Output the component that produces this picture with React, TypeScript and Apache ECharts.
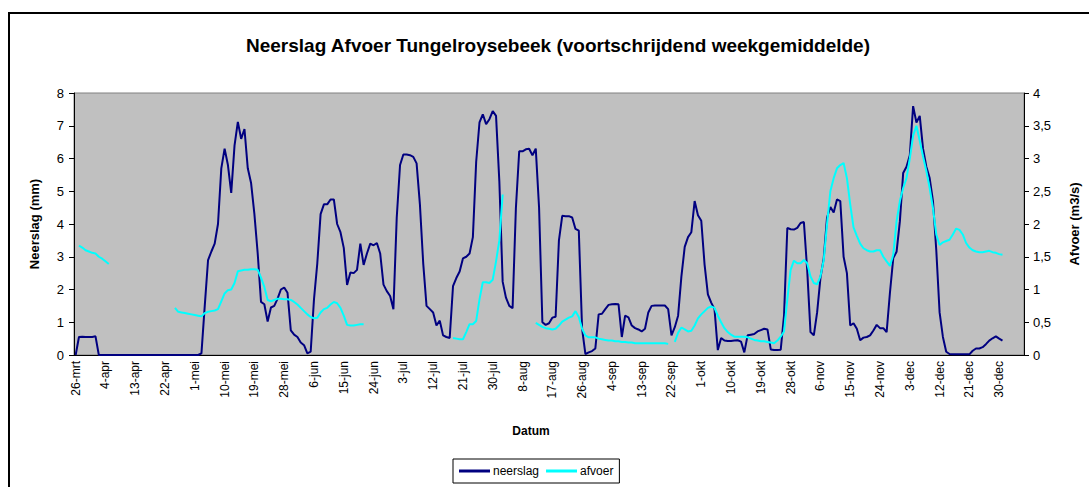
import React, { useEffect, useRef } from "react";
import * as echarts from "echarts";

const MONTHS = ["jan", "feb", "mrt", "apr", "mei", "jun", "jul", "aug", "sep", "okt", "nov", "dec"];
const START_DATE = Date.UTC(2005, 2, 26);
const CATEGORY_COUNT = 287;
const categories: string[] = [];
for (let i = 0; i < CATEGORY_COUNT; i++) {
  const dt = new Date(START_DATE + i * 86400000);
  categories.push(dt.getUTCDate() + "-" + MONTHS[dt.getUTCMonth()]);
}

// neerslag (mm), voortschrijdend weekgemiddelde, daily from 26-mrt
const neerslag: number[] = [
  0, 0.55, 0.56, 0.55, 0.55, 0.55, 0.57, 0, 0, 0,
  0, 0, 0, 0, 0, 0, 0, 0, 0, 0,
  0, 0, 0, 0, 0, 0, 0, 0, 0, 0,
  0, 0, 0, 0, 0, 0, 0, 0, 0.05, 1.5,
  2.9, 3.16, 3.4, 4.0, 5.7, 6.3, 5.8, 4.95, 6.4, 7.12,
  6.6, 6.9, 5.7, 5.25, 4.3, 3.1, 1.62, 1.55, 1.02, 1.45,
  1.5, 1.72, 2.0, 2.06, 1.9, 0.75, 0.62, 0.55, 0.38, 0.3,
  0.05, 0.1, 1.7, 2.8, 4.3, 4.6, 4.6, 4.75, 4.75, 4.0,
  3.75, 3.27, 2.14, 2.52, 2.5, 2.6, 3.4, 2.75, 3.1, 3.4,
  3.35, 3.42, 3.1, 2.15, 1.95, 1.8, 1.4, 4.2, 5.8, 6.12,
  6.12, 6.1, 6.05, 5.85, 4.6, 2.8, 1.5, 1.4, 1.3, 0.9,
  1.05, 0.6, 0.55, 0.52, 2.1, 2.35, 2.55, 2.95, 3.0, 3.1,
  3.6, 5.9, 7.1, 7.35, 7.05, 7.2, 7.45, 7.3, 5.3, 2.24,
  1.75, 1.5, 1.43, 4.49, 6.22, 6.22, 6.28, 6.3, 6.1, 6.3,
  4.5, 1.0, 0.92, 0.97, 1.14, 1.17, 3.5, 4.25, 4.24, 4.24,
  4.2, 3.85, 3.8, 0.8, 0.03, 0.08, 0.12, 0.2, 1.24, 1.26,
  1.4, 1.53, 1.55, 1.56, 1.55, 0.55, 1.2, 1.15, 0.9, 0.82,
  0.78, 0.72, 0.8, 1.3, 1.5, 1.51, 1.51, 1.51, 1.51, 1.4,
  0.6, 0.85, 1.2, 2.4, 3.3, 3.6, 3.75, 4.7, 4.27, 4.1,
  2.76, 1.85, 1.6, 1.4, 0.15, 0.52, 0.44, 0.43, 0.43, 0.44,
  0.45, 0.41, 0.08, 0.6, 0.62, 0.64, 0.72, 0.76, 0.8, 0.78,
  0.17, 0.15, 0.15, 0.16, 1.2, 3.88, 3.84, 3.83, 3.88, 4.03,
  4.06, 2.6, 0.7, 0.6, 1.3, 2.35, 2.96, 4.2, 4.52, 4.35,
  4.75, 4.7, 3.0, 2.5, 0.9, 0.97, 0.8, 0.45, 0.53, 0.55,
  0.6, 0.75, 0.92, 0.82, 0.82, 0.7, 1.9, 2.96, 3.15, 4.08,
  5.56, 5.75, 6.1, 7.6, 7.1, 7.3, 6.3, 5.75, 5.4, 4.7,
  3.2, 1.3, 0.55, 0.1, 0.03, 0.02, 0.02, 0.02, 0.02, 0.02,
  0.02, 0.13, 0.2, 0.2, 0.24, 0.33, 0.44, 0.51, 0.57, 0.5, 0.44,
];

// afvoer (m3/s), daily from 26-mrt; null = no measurement
const N = null;
const afvoer: (number | null)[] = [
  N, 1.67, 1.64, 1.6, 1.58, 1.56, 1.55, 1.5, 1.47, 1.43,
  1.39, N, N, N, N, N, N, N, N, N,
  N, N, N, N, N, N, N, N, N, N,
  0.72, 0.66, 0.65, 0.64, 0.63, 0.62, 0.61, 0.6, 0.59, 0.64,
  0.66, 0.67, 0.68, 0.7, 0.82, 0.94, 0.99, 1.0, 1.1, 1.28,
  1.29, 1.3, 1.3, 1.31, 1.31, 1.3, 1.18, 1.04, 0.84, 0.82,
  0.84, 0.86, 0.86, 0.85, 0.85, 0.84, 0.81, 0.77, 0.72, 0.67,
  0.62, 0.58, 0.56, 0.57, 0.65, 0.7, 0.72, 0.77, 0.81, 0.79,
  0.72, 0.6, 0.46, 0.45, 0.45, 0.46, 0.47, 0.47, N, N,
  N, N, N, N, N, N, N, N, N, N,
  N, N, N, N, N, N, N, N, N, N,
  N, N, N, N, 0.26, 0.25, 0.24, 0.24, 0.35, 0.47,
  0.47, 0.52, 0.85, 1.11, 1.11, 1.1, 1.15, 1.43, 1.75, 2.45,
  N, N, N, N, N, N, N, N, N, 0.49,
  0.46, 0.43, 0.41, 0.4, 0.39, 0.4, 0.45, 0.51, 0.54, 0.57,
  0.59, 0.67, 0.58, 0.4, 0.3, 0.27, 0.27, 0.27, 0.25, 0.24,
  0.23, 0.22, 0.22, 0.21, 0.21, 0.2, 0.2, 0.19, 0.19, 0.18,
  0.18, 0.18, 0.18, 0.18, 0.18, 0.18, 0.18, 0.18, 0.18, 0.17,
  N, 0.2, 0.34, 0.42, 0.39, 0.36, 0.37, 0.45, 0.56, 0.62,
  0.67, 0.72, 0.74, 0.72, 0.6, 0.5, 0.41, 0.35, 0.31, 0.28,
  0.28, 0.28, 0.28, 0.27, 0.25, 0.23, 0.22, 0.21, 0.21, 0.2,
  0.19, 0.18, 0.22, 0.28, 0.36, 0.85, 1.3, 1.44, 1.4, 1.4,
  1.45, 1.4, 1.2, 1.1, 1.08, 1.2, 1.45, 2.0, 2.5, 2.7,
  2.85, 2.9, 2.93, 2.7, 2.3, 1.95, 1.82, 1.7, 1.63, 1.6,
  1.58, 1.58, 1.6, 1.6, 1.5, 1.43, 1.36, 1.53, 2.04, 2.35,
  2.55, 2.7, 3.0, 3.35, 3.5, 3.27, 3.03, 2.81, 2.55, 2.24,
  1.84, 1.68, 1.72, 1.74, 1.76, 1.84, 1.93, 1.91, 1.84, 1.71,
  1.64, 1.6, 1.58, 1.57, 1.57, 1.58, 1.59, 1.57, 1.56, 1.54, 1.53,
];

const FONT = "Arial, 'Liberation Sans', sans-serif";

export default function App() {
  const ref = useRef<HTMLDivElement>(null);
  useEffect(() => {
    if (!ref.current) return;
    const chart = echarts.init(ref.current, undefined, { renderer: "svg" });
    chart.setOption({
      animation: false,
      backgroundColor: "#ffffff",
      textStyle: { fontFamily: FONT },
      title: {
        text: "Neerslag Afvoer Tungelroysebeek (voortschrijdend weekgemiddelde)",
        left: 553,
        textAlign: "center",
        top: 31,
        textStyle: { fontFamily: FONT, fontSize: 19, fontWeight: "bold", color: "#000" },
      },
      graphic: [
        {
          type: "rect",
          shape: { x: 9, y: 13, width: 1200, height: 600 },
          style: { fill: "none", stroke: "#000", lineWidth: 2 },
          silent: true,
        },
      ],
      legend: {
        left: 453,
        top: 459,
        orient: "horizontal",
        icon: "rect",
        itemWidth: 31,
        itemHeight: 3,
        itemGap: 7,
        padding: [6, 6, 6, 6],
        borderColor: "#000",
        borderWidth: 1,
        borderRadius: 0,
        backgroundColor: "#fff",
        textStyle: { fontFamily: FONT, fontSize: 12, color: "#000", padding: [0, 0, 0, -2] },
        data: ["neerslag", "afvoer"],
      },
      grid: {
        left: 74,
        right: 62,
        top: 93,
        bottom: 132,
        show: true,
        backgroundColor: "#c0c0c0",
        borderColor: "#808080",
        borderWidth: 1,
      },
      xAxis: {
        type: "category",
        data: categories,
        boundaryGap: true,
        name: "Datum",
        nameLocation: "middle",
        nameGap: 70,
        nameTextStyle: {
          fontFamily: FONT,
          fontSize: 12,
          fontWeight: "bold",
          color: "#000",
          padding: [0, 36, 0, 0],
        },
        axisLine: { show: true, lineStyle: { color: "#000", width: 1 } },
        axisTick: { show: false },
        axisLabel: {
          interval: 8,
          rotate: 90,
          margin: 6,
          fontFamily: FONT,
          fontSize: 12,
          color: "#000",
        },
        splitLine: { show: false },
      },
      yAxis: [
        {
          type: "value",
          min: 0,
          max: 8,
          interval: 1,
          name: "Neerslag (mm)",
          nameLocation: "middle",
          nameRotate: 90,
          nameGap: 33,
          nameTextStyle: { fontFamily: FONT, fontSize: 13, fontWeight: "bold", color: "#000" },
          axisLine: { show: true, lineStyle: { color: "#000", width: 1 } },
          axisTick: { show: true, length: 5, lineStyle: { color: "#000" } },
          axisLabel: { margin: 10, fontFamily: FONT, fontSize: 13, color: "#000" },
          splitLine: { show: false },
        },
        {
          type: "value",
          position: "right",
          min: 0,
          max: 4,
          interval: 0.5,
          name: "Afvoer (m3/s)",
          nameLocation: "middle",
          nameRotate: 90,
          nameGap: 44,
          nameTextStyle: { fontFamily: FONT, fontSize: 13, fontWeight: "bold", color: "#000" },
          axisLine: { show: true, lineStyle: { color: "#000", width: 1 } },
          axisTick: { show: true, length: 5, lineStyle: { color: "#000" } },
          axisLabel: {
            margin: 9,
            fontFamily: FONT,
            fontSize: 13,
            color: "#000",
            formatter: (v: number) => String(v).replace(".", ","),
          },
          splitLine: { show: false },
        },
      ],
      series: [
        {
          name: "neerslag",
          type: "line",
          yAxisIndex: 0,
          data: neerslag,
          showSymbol: false,
          symbol: "none",
          lineStyle: { color: "#000080", width: 2 },
          itemStyle: { color: "#000080" },
          z: 2,
        },
        {
          name: "afvoer",
          type: "line",
          yAxisIndex: 1,
          data: afvoer,
          showSymbol: false,
          symbol: "none",
          connectNulls: false,
          lineStyle: { color: "#00ffff", width: 2 },
          itemStyle: { color: "#00ffff" },
          z: 3,
        },
      ],
    });
    return () => chart.dispose();
  }, []);
  return (
    <div
      ref={ref}
      style={{ position: "absolute", left: 0, top: 0, width: 1089, height: 487, background: "#fff" }}
    />
  );
}
